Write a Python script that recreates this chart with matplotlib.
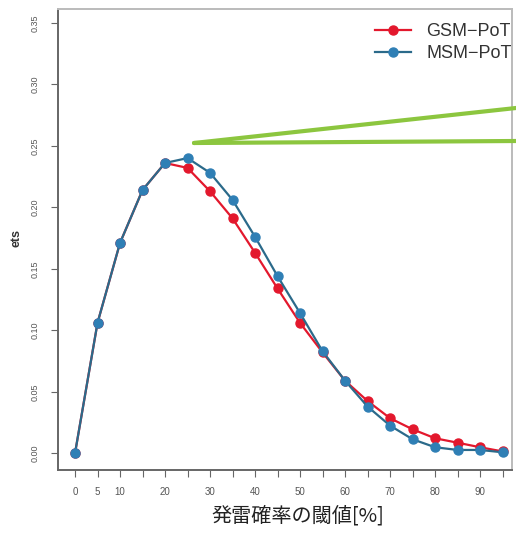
import matplotlib
matplotlib.use("Agg")
import matplotlib.pyplot as plt
from matplotlib.lines import Line2D

plt.rcParams['font.family'] = ['Liberation Sans', 'Noto Sans CJK JP', 'DejaVu Sans']

# threshold of lightning probability [%]
thresholds = [0, 5, 10, 15, 20, 25, 30, 35, 40, 45, 50, 55, 60, 65, 70, 75, 80, 85, 90, 95]
gsm_pot = [0.000, 0.106, 0.171, 0.214, 0.236, 0.232, 0.213, 0.191, 0.163, 0.134,
           0.106, 0.082, 0.059, 0.0425, 0.0285, 0.0195, 0.0122, 0.0086, 0.0049, 0.0015]
msm_pot = [0.000, 0.106, 0.171, 0.214, 0.236, 0.240, 0.228, 0.206, 0.176, 0.144,
           0.114, 0.083, 0.059, 0.038, 0.0225, 0.0114, 0.0049, 0.0027, 0.0027, 0.0008]
series_names = ["GSM\u2212PoT", "MSM\u2212PoT"]
x_ticks = list(range(0, 100, 5))
x_ticklabels = ["0", "5", "10", "", "20", "", "30", "", "40", "", "50", "", "60", "",
                "70", "", "80", "", "90", ""]
y_ticks = [0.00, 0.05, 0.10, 0.15, 0.20, 0.25, 0.30, 0.35]

W, H = 516, 533
fig = plt.figure(figsize=(W / 100, H / 100), dpi=100)
ax = fig.add_axes([58 / W, 1 - 470 / H, (512 - 58) / W, (470 - 9) / H])

red = "#e3182d"
blue = "#2f7fb5"
blue_line = "#2b6a8a"
ax.plot(thresholds, gsm_pot, color=red, lw=1.6, marker="o", ms=6.5,
        mfc=red, mec=red, zorder=3)
ax.plot(thresholds, msm_pot, color=blue_line, lw=1.6, marker="o", ms=6.5,
        mfc=blue, mec=blue, zorder=4)

ax.set_xlim(-3.78, 97.1)
ax.set_ylim(-0.0136, 0.3612)
ax.set_xticks(x_ticks)
ax.set_xticklabels(x_ticklabels, fontsize=7, color="#555555")
ax.set_yticks(y_ticks)
ax.set_yticklabels([f"{v:.2f}" for v in y_ticks], fontsize=6.5, color="#555555",
                   rotation=90, va="center")
ax.tick_params(axis="both", direction="out", length=5, width=0.8, color="#666666")
ax.tick_params(axis="x", pad=7)
ax.tick_params(axis="y", pad=8)
for side in ["left", "bottom"]:
    ax.spines[side].set_color("#666666")
    ax.spines[side].set_linewidth(1.4)
for side in ["top", "right"]:
    ax.spines[side].set_color("#bbbbbb")
    ax.spines[side].set_linewidth(1.4)

ax.set_ylabel("ets", fontsize=9, fontweight="bold", color="#333333")
ax.yaxis.set_label_coords((22 - 58) / (512 - 58), (470 - 238) / (470 - 9))
ax.set_xlabel("発雷確率の閾値[%]", fontsize=14.5, color="#222222",
              family=['Noto Sans CJK JP', 'DejaVu Sans'])
ax.xaxis.set_label_coords((298 - 58) / (512 - 58), -(516 - 470) / (470 - 9))
ax.xaxis.label.set_va("center")

handles = [
    Line2D([], [], color=red, lw=1.6, marker="o", ms=6.5, mfc=red, mec=red),
    Line2D([], [], color=blue_line, lw=1.6, marker="o", ms=6.5, mfc=blue, mec=blue),
]
fig.legend(handles, series_names, loc="upper left",
           bbox_to_anchor=(375 / W, 1 - 23 / H), frameon=False, fontsize=13,
           handlelength=2.0, handletextpad=0.85, labelspacing=0.3,
           labelcolor="#333333", borderaxespad=0, borderpad=0)

# green callout lines
green = "#8cc63f"
fig.add_artist(Line2D([194 / W, 1.0], [1 - 143 / H, 1 - 108 / H],
                      color=green, lw=3.0, solid_capstyle="round"))
fig.add_artist(Line2D([194 / W, 1.0], [1 - 143 / H, 1 - 141 / H],
                      color=green, lw=3.0, solid_capstyle="round"))

fig.savefig("out.png", dpi=100)
